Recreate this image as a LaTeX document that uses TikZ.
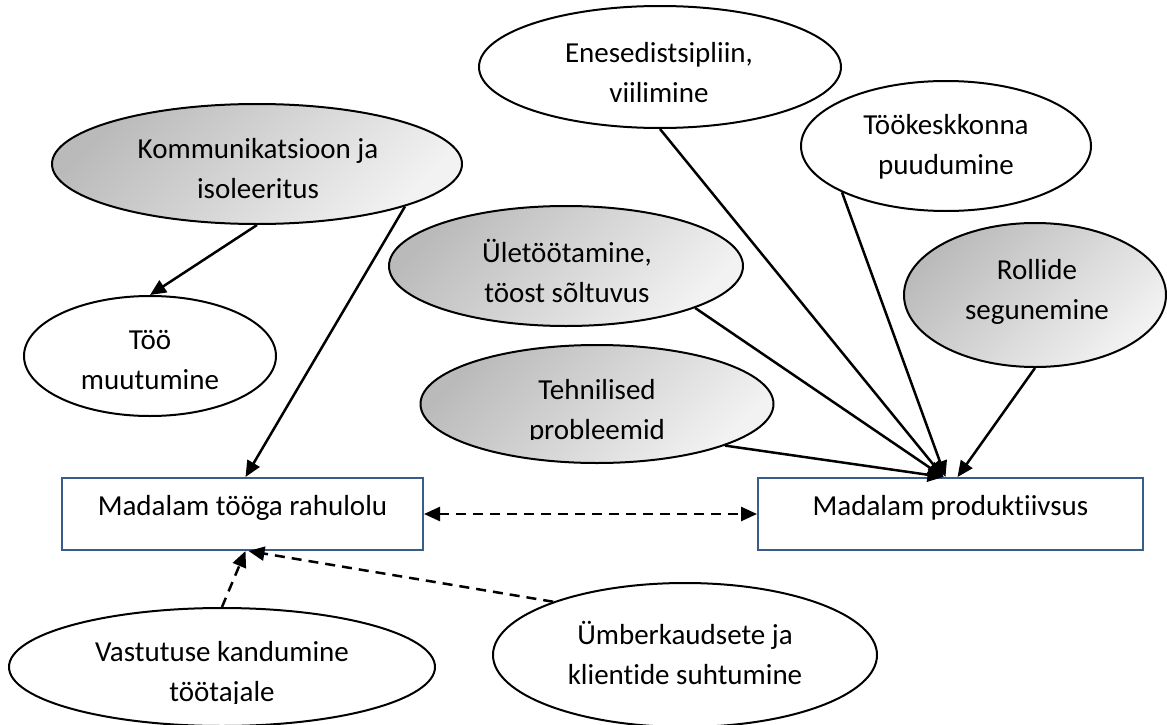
\documentclass[tikz,border=0pt]{standalone}
\usepackage{fontspec}
\setmainfont{Carlito}[Ligatures=NoCommon]
\usetikzlibrary{shapes.geometric,arrows.meta}
\definecolor{boxblue}{RGB}{56,93,138}
\begin{document}
\begin{tikzpicture}[x=1pt,y=-1pt,
 ell/.style={draw=black, line width=2pt, ellipse, inner sep=0pt},
 grayell/.style={ell, top color=black!27, bottom color=black!5, shading angle=45},
 whiteell/.style={ell, fill=white},
 txt/.style={align=center, inner sep=0pt, font=\fontsize{29}{40}\selectfont},
 box/.style={draw=boxblue, line width=2pt, fill=white, minimum height=72pt, inner sep=0pt,
   font=\fontsize{29}{40}\selectfont, text height=14pt, text depth=12pt},
 tip/.tip={Triangle[length=16pt,width=14pt]},
 conn/.style={line width=2.5pt, -tip},
 dconn/.style={conn, dash pattern=on 10pt off 7pt},
 dboth/.style={line width=2.5pt, tip-tip, dash pattern=on 10pt off 7pt},
]
\useasboundingbox (0,0) rectangle (1167,725);

% ellipses
\node[grayell, minimum width=410pt, minimum height=120pt] (komm) at (257,164) {};
\node[txt] (t-komm) at (258,169) {Kommunikatsioon ja\\isoleeritus};

\node[whiteell, minimum width=252pt, minimum height=120pt] (too) at (150,356) {};
\node[txt] (t-too) at (150,360) {Töö\\muutumine};

\node[whiteell, minimum width=362pt, minimum height=122pt] (enes) at (660,67) {};
\node[txt] (t-enes) at (659,73) {Enesedistsipliin,\\viilimine};

\node[whiteell, minimum width=290pt, minimum height=130pt] (tookesk) at (946,146) {};
\node[txt] (t-tookesk) at (946,147) {Töökeskkonna\\puudumine};

\node[grayell, minimum width=354pt, minimum height=120pt] (ulet) at (566,266) {};
\node[txt] (t-ulet) at (567,271) {Ületöötamine,\\töost sõltuvus};

\node[grayell, minimum width=262pt, minimum height=144pt] (roll) at (1035,295) {};
\node[txt] (t-roll) at (1037,292) {Rollide\\segunemine};

\node[grayell, minimum width=353pt, minimum height=118pt] (tehn) at (597,404) {};
\begin{scope}
\clip (0,300) rectangle (1167,439);
\node[txt] (t-tehn) at (597,412) {Tehnilised\\probleemid};
\end{scope}

\node[whiteell, minimum width=426pt, minimum height=118pt] (vast) at (222,667) {};
\begin{scope}
\clip (0,600) rectangle (1167,703);
\node[txt] (t-vast) at (222,674) {Vastutuse kandumine\\töötajale};
\end{scope}

\node[whiteell, minimum width=384pt, minimum height=144pt] (umb) at (685,655) {};
\node[txt] (t-umb) at (685,653) {Ümberkaudsete ja\\klientide suhtumine};

% boxes
\node[box, minimum width=361pt] (rahul) at (242.5,514) {Madalam tööga rahulolu};
\node[box, minimum width=385pt] (prod) at (950.5,514) {Madalam produktiivsus};

% connectors
\draw[conn] (komm.south) -- (too.north);
\draw[conn] (komm.-16.5) -- ([xshift=3pt]rahul.north);
\draw[conn] (enes.south) -- ([xshift=-7pt]prod.north);
\draw[conn] (tookesk.204.5) -- ([xshift=-5pt]prod.north);
\draw[conn] (ulet.-18.4) -- ([xshift=-7pt]prod.north);
\draw[conn] (tehn.-18) -- ([xshift=-7pt]prod.north);
\draw[conn] (roll.south) -- ([xshift=7pt]prod.north);
\draw[dboth] (rahul.east) -- (prod.west);
\draw[dconn] (vast.north) -- ([xshift=3pt]rahul.south);
\draw[dconn] (umb.158.9) -- ([xshift=6pt]rahul.south);
\end{tikzpicture}
\end{document}
